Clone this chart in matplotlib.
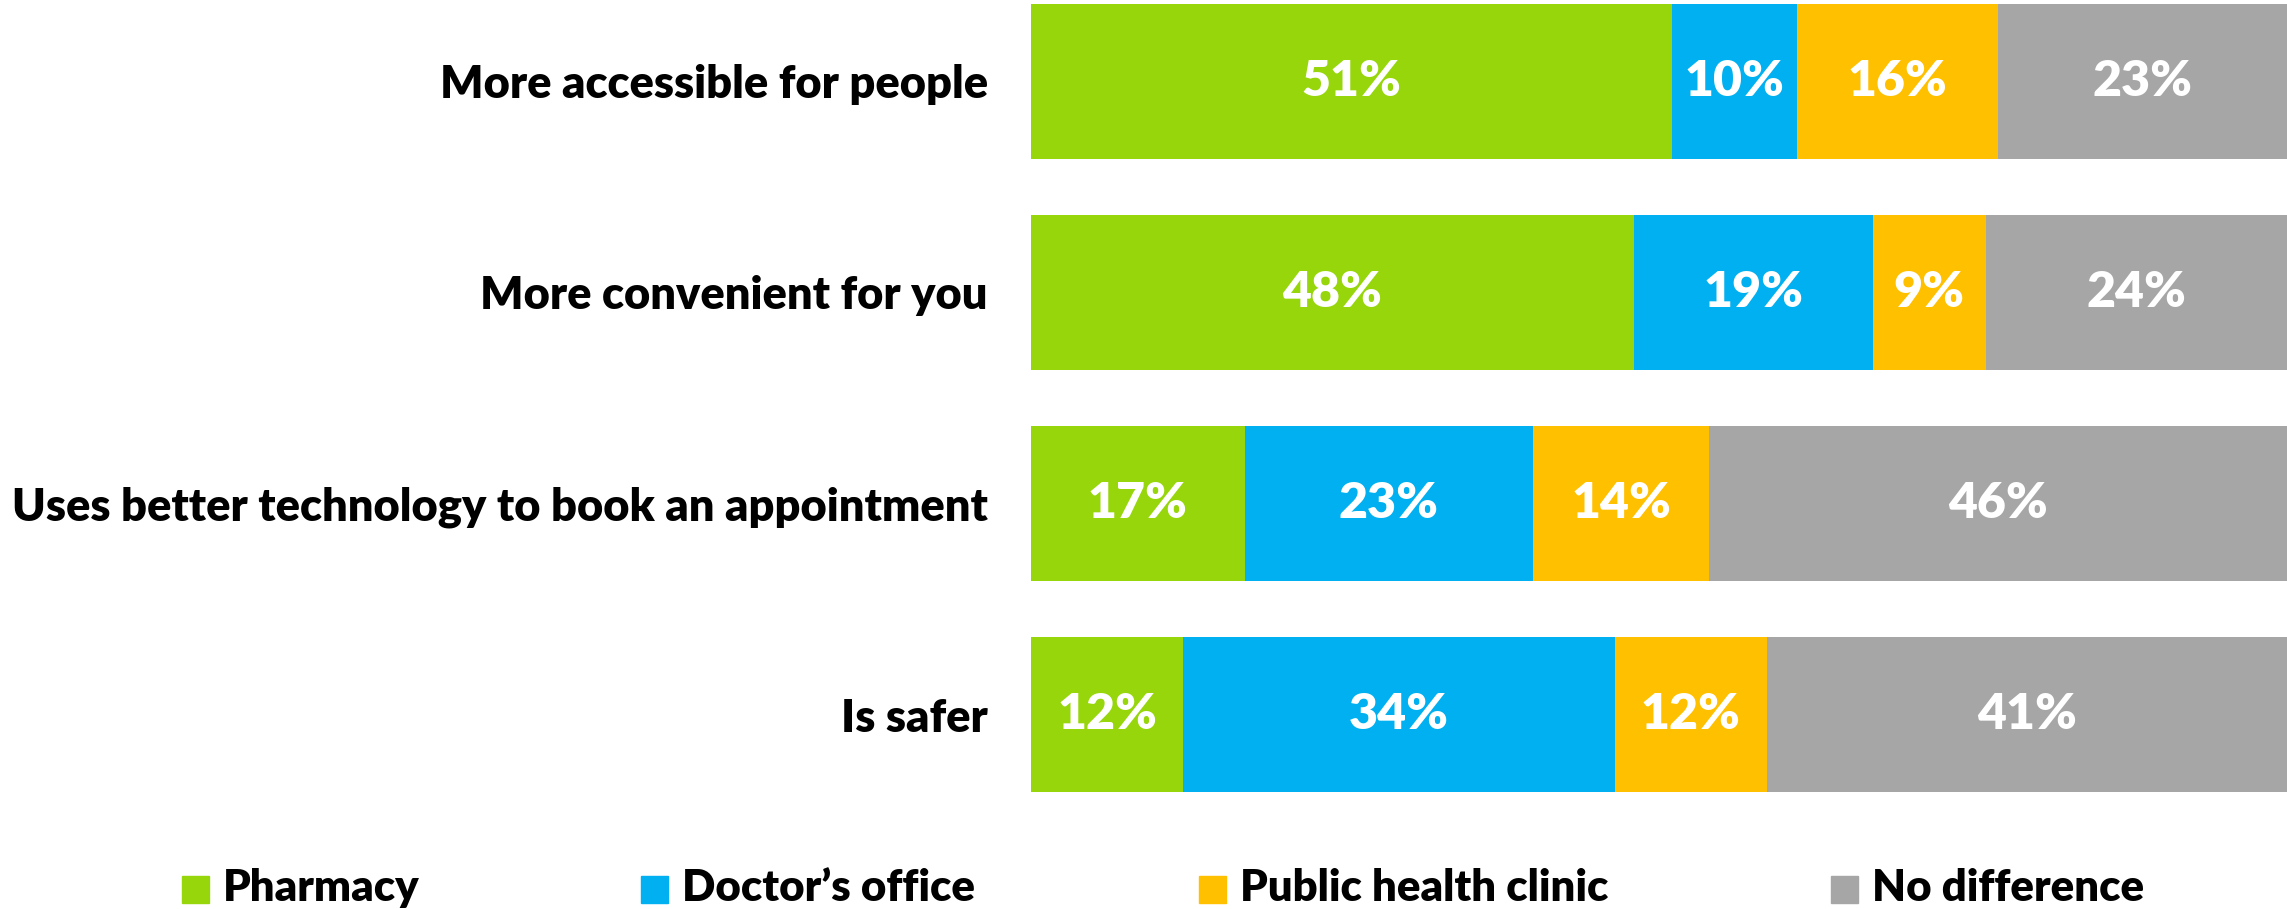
import numpy as np
import matplotlib
matplotlib.use("Agg")
from matplotlib import pyplot as plt
from matplotlib.patches import Rectangle

categories = ['More accessible for people',
              'More convenient for you',
              'Uses better technology to book an appointment',
              'Is safer']
series_names = ['Pharmacy', 'Doctor\u2019s office', 'Public health clinic', 'No difference']
pharmacy = [51, 48, 17, 12]
doctors = [10, 19, 23, 34]
clinic = [16, 9, 14, 12]
no_diff = [23, 24, 46, 41]
colors = ['#97D60B', '#00B0F0', '#FFC000', '#A6A6A6']

plt.rcParams['font.family'] = ['Lato', 'DejaVu Sans']

W, H = 2287, 909
fig = plt.figure(figsize=(W / 100, H / 100), dpi=100)
ax = fig.add_axes([1031 / W, 1 - 792 / H, 1 - 1031 / W, (792 - 4) / H])

data = np.array([pharmacy, doctors, clinic, no_diff], dtype=float)
totals = data.sum(axis=0)
shares = data / totals * 100  # bars fill the full row
ypos = np.arange(len(categories))
h = 0.733

left = np.zeros(len(categories))
for i, name in enumerate(series_names):
    ax.barh(ypos, shares[i], left=left, height=h, color=colors[i], edgecolor='none')
    for j in range(len(categories)):
        ax.text(left[j] + shares[i][j] / 2, ypos[j], '%d%%' % data[i][j],
                ha='center', va='center', color='white', fontsize=36, fontweight='heavy')
    left += shares[i]

ax.set_xlim(0, 100)
ax.set_ylim(len(categories) - 1 + h / 2, -h / 2)
ax.set_yticks(ypos)
ax.set_yticklabels(categories, fontsize=32.6, fontweight='heavy', color='black')
ax.tick_params(axis='y', length=0, pad=31)
ax.set_xticks([])
for s in ax.spines.values():
    s.set_visible(False)

# legend drawn by hand along the bottom
sq_x = [182, 641, 1199, 1831]
for i, name in enumerate(series_names):
    fig.add_artist(Rectangle((sq_x[i] / W, 1 - 903 / H), 27 / W, 27 / H,
                             transform=fig.transFigure, color=colors[i]))
    fig.text((sq_x[i] + 41) / W, 1 - 901 / H, name, fontsize=31.5, fontweight='heavy',
             color='black', ha='left', va='baseline')

fig.savefig('out.png', dpi=100)
